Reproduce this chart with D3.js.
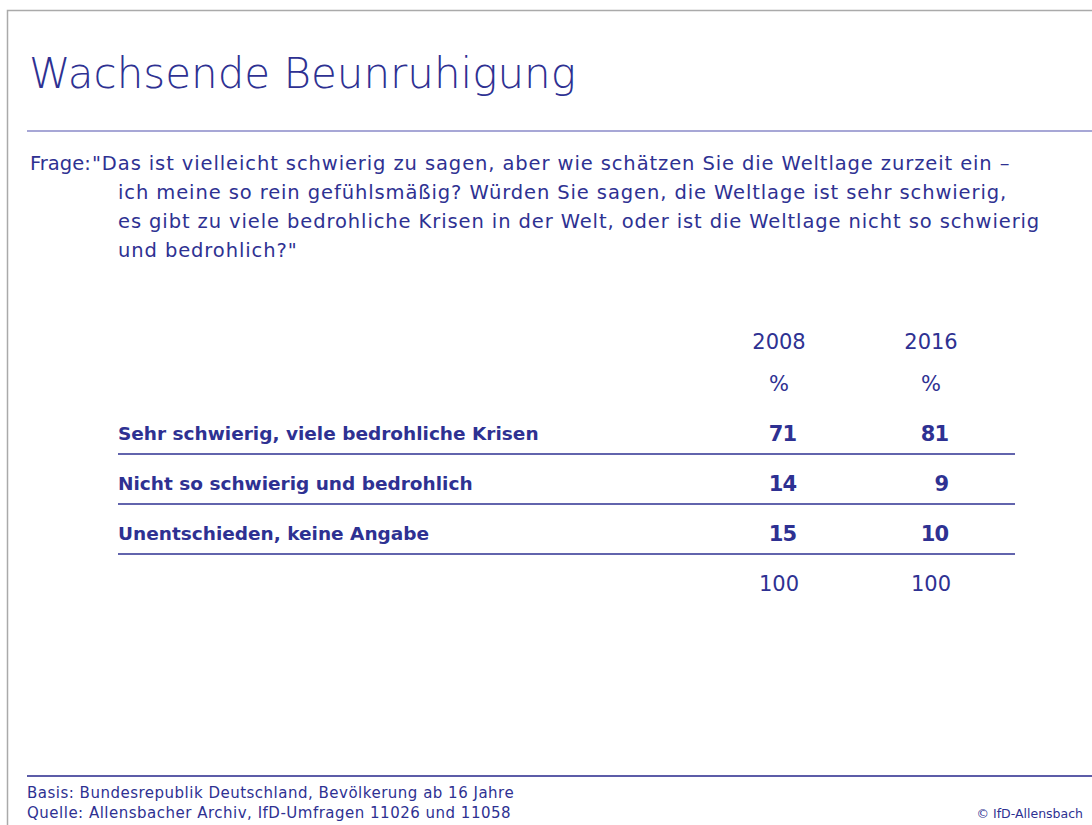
<!DOCTYPE html>
<html>
<head>
<meta charset="utf-8">
<script src="https://cdn.jsdelivr.net/npm/d3@7"></script>
<style>
  body { margin: 0; background: #fff; }
  svg { display: block; font-family: "DejaVu Sans", sans-serif; }
</style>
</head>
<body>
<div class="main"></div>
<script>
const title = "Wachsende Beunruhigung";
const questionLines = [
    "ich meine so rein gefühlsmäßig? Würden Sie sagen, die Weltlage ist sehr schwierig,",
    "es gibt zu viele bedrohliche Krisen in der Welt, oder ist die Weltlage nicht so schwierig",
    "und bedrohlich?\""
];
const questionFirst = "\"Das ist vielleicht schwierig zu sagen, aber wie schätzen Sie die Weltlage zurzeit ein –";

const years = ["2008", "2016"];
const categories = [
    "Sehr schwierig, viele bedrohliche Krisen",
    "Nicht so schwierig und bedrohlich",
    "Unentschieden, keine Angabe"
];
const values2008 = [71, 14, 15];
const values2016 = [81, 9, 10];
const totals = [100, 100];

const footerLines = [
    "Basis: Bundesrepublik Deutschland, Bevölkerung ab 16 Jahre",
    "Quelle: Allensbacher Archiv, IfD-Umfragen 11026 und 11058"
];

const blue = "#2e3192";
const width = 1092, height = 825;

const svg = d3.select(".main").append("svg")
    .attr("width", width)
    .attr("height", height);

// frame (top + left only)
svg.append("path")
    .attr("d", "M7.5,825 V10.5 H1092")
    .attr("fill", "none")
    .attr("stroke", "#aaaaaa")
    .attr("stroke-width", 1.5);

// title
svg.append("text")
    .attr("x", 29)
    .attr("y", 88)
    .attr("fill", blue)
    .style("font-size", "42px")
    .style("font-weight", 300)
    .text(title);

svg.append("line")
    .attr("x1", 27).attr("x2", width)
    .attr("y1", 131).attr("y2", 131)
    .attr("stroke", "#8a8ac8")
    .attr("stroke-width", 1.5);

// question
const q = svg.append("g")
    .attr("fill", blue)
    .style("font-size", "19.5px")
    .style("letter-spacing", "0.9px");

q.append("text").attr("x", 30).attr("y", 170).style("letter-spacing", "0px").text("Frage:");
q.append("text").attr("x", 92).attr("y", 170).text(questionFirst);
q.selectAll("text.cont")
    .data(questionLines)
    .enter().append("text")
    .attr("class", "cont")
    .attr("x", 118)
    .attr("y", (d, i) => 199 + i * 29)
    .text(d => d);

// table
const x = d3.scalePoint()
    .domain(years)
    .range([779, 931]);

const y = d3.scaleBand()
    .domain(categories)
    .range([404, 554]);

const rows = categories.map((c, i) => ({ cat: c, vals: [values2008[i], values2016[i]] }));

const head = svg.append("g").attr("fill", blue).style("font-size", "21px");
head.selectAll("text.year")
    .data(years)
    .enter().append("text")
    .attr("class", "year")
    .attr("x", d => x(d))
    .attr("y", 349)
    .attr("text-anchor", "middle")
    .text(d => d);

head.selectAll("text.pct")
    .data(years)
    .enter().append("text")
    .attr("class", "pct")
    .attr("x", d => x(d))
    .attr("y", 391)
    .attr("text-anchor", "middle")
    .text("%");

const row = svg.selectAll("g.row")
    .data(rows)
    .enter().append("g")
    .attr("class", "row")
    .attr("transform", d => "translate(0," + y(d.cat) + ")");

row.append("text")
    .attr("x", 118)
    .attr("y", 36)
    .attr("fill", blue)
    .style("font-size", "18.5px")
    .style("font-weight", "bold")
    .text(d => d.cat);

row.selectAll("text.val")
    .data(d => d.vals.map((v, j) => ({ year: years[j], v: v })))
    .enter().append("text")
    .attr("class", "val")
    .attr("x", d => x(d.year) + 17)
    .attr("y", 37)
    .attr("text-anchor", "end")
    .attr("fill", blue)
    .style("font-size", "21px")
    .style("font-weight", "bold")
    .style("letter-spacing", "-1px")
    .text(d => d.v);

row.append("line")
    .attr("x1", 118).attr("x2", 1015)
    .attr("y1", y.bandwidth()).attr("y2", y.bandwidth())
    .attr("stroke", blue)
    .attr("stroke-width", 1.5);

svg.selectAll("text.total")
    .data(totals)
    .enter().append("text")
    .attr("class", "total")
    .attr("x", (d, i) => x(years[i]))
    .attr("y", 591)
    .attr("text-anchor", "middle")
    .attr("fill", blue)
    .style("font-size", "21px")
    .text(d => d);

// footer
svg.append("line")
    .attr("x1", 27).attr("x2", width)
    .attr("y1", 776).attr("y2", 776)
    .attr("stroke", "#5c5ca8")
    .attr("stroke-width", 2);

svg.selectAll("text.foot")
    .data(footerLines)
    .enter().append("text")
    .attr("class", "foot")
    .attr("x", 27)
    .attr("y", (d, i) => 798 + i * 20)
    .attr("fill", blue)
    .style("font-size", "15px")
    .style("letter-spacing", "0.5px")
    .text(d => d);

svg.append("text")
    .attr("x", 1083)
    .attr("y", 818)
    .attr("text-anchor", "end")
    .attr("fill", blue)
    .style("font-size", "12.5px")
    .text("© IfD-Allensbach");
</script>
</body>
</html>
